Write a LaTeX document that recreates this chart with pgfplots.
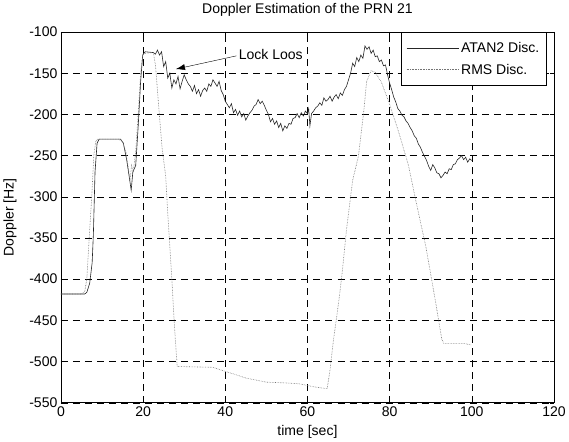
\documentclass[border=0pt]{standalone}
\usepackage{fontspec}
\setmainfont{Liberation Sans}
\usepackage{pgfplots}
\pgfplotsset{compat=1.18}
\usetikzlibrary{arrows.meta}

\begin{document}
\begin{tikzpicture}[font=\fontsize{14}{16}\selectfont]
  \begin{axis}[
    width=492pt, height=370pt,
    scale only axis,
    xmin=0, xmax=120, ymin=-550, ymax=-100,
    xtick={0,20,...,120},
    ytick={-550,-500,...,-100},
    /pgf/number format/assume math mode=true,
    tick align=inside,
    tick style={black, thin},
    grid=major,
    major grid style={black, dash pattern=on 7pt off 5pt, line width=0.5pt},
    axis line style={black, line width=0.6pt},
    title={Doppler Estimation of the PRN 21},
    title style={yshift=6pt},
    xlabel={time [sec]},
    ylabel={Doppler [Hz]},
    xlabel style={yshift=-2pt},
    ylabel style={yshift=6pt},
    legend style={at={(0.985,1)}, anchor=north east, draw=black,
      fill=white, cells={anchor=west}, row sep=6pt,
      inner xsep=5pt, inner ysep=8pt},
    legend image code/.code={\draw[#1] (0pt,0pt) -- (52pt,0pt);},
  ]
    % ATAN2 discriminator
    \addplot[black!85, line width=0.6pt] coordinates {
      (0,-418) (5.8,-418) (6.3,-416) (7.0,-405) (7.6,-380) (7.9,-345)
      (8.3,-270) (8.8,-235) (9.3,-230) (14.5,-230) (15.2,-235) (16,-255)
      (16.6,-275) (17.1,-292) (17.5,-270) (18.2,-262) (18.8,-215)
      (19.4,-160) (19.9,-128) (20.5,-124) (22.5,-125)
      (23,-127) (23.5,-122) (24,-128) (24.5,-124) (25,-142) (25.5,-136)
      (26,-156) (26.5,-150) (27,-168) (27.5,-158) (28,-163) (28.5,-154)
      (29,-169) (29.5,-160) (30,-152) (30.5,-158) (31,-163) (31.5,-166)
      (32,-172) (32.5,-165) (33,-175) (33.5,-170) (34,-178) (34.5,-171)
      (35,-168) (35.5,-172) (36,-163) (36.5,-166) (37,-158) (37.5,-162)
      (38,-166) (38.5,-160) (39,-171) (39.5,-176) (40,-184) (40.5,-188)
      (41,-192) (41.5,-187) (42,-198) (42.5,-194) (43,-201) (43.5,-196)
      (44,-203) (44.5,-199) (45,-207) (45.5,-202) (46,-198) (46.5,-195)
      (47,-190) (47.5,-188) (48,-182) (48.5,-187) (49,-184) (49.5,-189)
      (50,-195) (50.5,-200) (51,-209) (51.5,-205) (52,-212) (52.5,-208)
      (53,-216) (53.5,-211) (54,-220) (54.5,-214) (55,-217) (55.5,-211)
      (56,-212) (56.5,-205) (57,-204) (57.5,-199) (58,-204) (58.5,-198)
      (59,-202) (59.5,-196) (60,-199) (60.3,-193) (60.6,-214) (61,-199)
      (61.5,-196) (62,-192) (62.5,-190) (63,-186) (63.5,-189) (64,-180)
      (64.5,-184) (65,-182) (65.5,-178) (66,-184) (66.5,-179) (67,-176)
      (67.5,-181) (68,-174) (68.5,-177) (69,-170) (69.5,-166) (70,-158)
      (70.5,-150) (71,-138) (71.5,-142) (72,-131) (72.5,-136) (73,-128)
      (73.5,-132) (74,-117) (74.5,-121) (75,-118) (75.5,-126) (76,-122)
      (76.5,-130) (77,-129) (77.5,-136) (78,-134) (78.5,-141) (79,-140)
      (79.5,-152) (80,-162) (80.5,-170) (81,-179) (81.5,-185) (82,-193)
      (82.5,-196) (83,-201) (83.5,-203) (84,-208) (84.5,-211) (85,-216)
      (85.5,-220) (86,-226) (86.5,-229) (87,-236) (87.5,-240) (88,-246)
      (88.5,-251) (89,-256) (89.5,-263) (90,-268) (90.5,-261) (91,-265)
      (91.5,-271) (92,-272) (92.5,-277) (93,-274) (93.5,-270) (94,-272)
      (94.5,-266) (95,-267) (95.5,-261) (96,-260) (96.5,-255) (97,-253)
      (97.5,-250) (98,-255) (98.5,-252) (99,-258) (99.5,-254) (100,-256)
    };
    \addlegendentry{ATAN2 Disc.}
    % RMS discriminator
    \addplot[black!55, densely dotted, line width=0.6pt] coordinates {
      (0,-418) (5,-418) (5.8,-415) (6.3,-400) (7,-340) (7.5,-300)
      (8,-250) (8.5,-232) (9,-230) (14,-230) (15,-233) (15.8,-245)
      (16.3,-262) (16.8,-280) (17.2,-262) (17.6,-270) (18.2,-245)
      (18.8,-200) (19.4,-150) (20,-126) (22.5,-125) (23,-140)
      (23.8,-190) (24.6,-240) (25.5,-275) (26,-320) (26.5,-360)
      (27,-400) (27.4,-437) (27.8,-470) (28.3,-506) (37,-507)
      (40,-512) (42,-515) (45,-520) (50,-525) (55,-526) (58,-527)
      (62,-531) (64.8,-533) (65.5,-510) (66.3,-475) (67,-450)
      (67.8,-420) (68.5,-390) (69.5,-340) (71,-280) (72.4,-251)
      (73.7,-197) (74.4,-160) (75.5,-147) (76.5,-149) (78,-161)
      (79.8,-185) (82,-218) (84.6,-262) (86.3,-303) (88.8,-360)
      (91.2,-428) (92.7,-473) (93.2,-478) (98,-478) (100,-480)
    };
    \addlegendentry{RMS Disc.}
    \draw[-{Latex[length=9pt,width=6pt]}, black, thin]
      (axis cs:42.7,-129) -- (axis cs:28,-145);
    \node[anchor=west, inner sep=1pt] at (axis cs:43,-127) {Lock Loos};
  \end{axis}
\end{tikzpicture}
\end{document}
